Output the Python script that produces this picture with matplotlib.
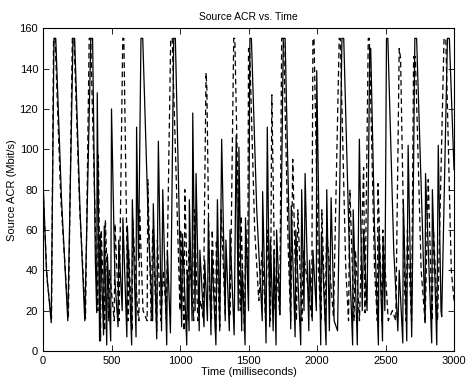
import matplotlib
matplotlib.use('Agg')
import matplotlib.pyplot as plt

# Source 1 (solid) turning points: time (ms), ACR (Mbit/s)
solid_t = [0, 25, 60, 80, 93, 135, 181, 219, 231, 270, 305, 349, 362, 382, 392, 396,
           413, 418, 442, 447, 465, 470, 494, 500, 525, 548, 553, 578, 583, 612, 616,
           647, 652, 679, 683, 697, 715, 728, 770, 800, 805, 830, 842, 865, 874, 903,
           908, 930, 954, 966, 1012, 1018, 1049, 1053, 1066, 1068, 1088, 1093, 1110,
           1117, 1140, 1145, 1175, 1180, 1200, 1207, 1226, 1232, 1262, 1273, 1290,
           1304, 1330, 1335, 1360, 1365, 1395, 1410, 1425, 1430, 1450, 1455, 1475,
           1478, 1500, 1510, 1521, 1560, 1600, 1603, 1628, 1637, 1655, 1660, 1680,
           1685, 1701, 1705, 1730, 1754, 1767, 1800, 1808, 1812, 1840, 1845, 1881,
           1888, 1905, 1913, 1940, 1945, 1965, 1970, 1995, 1998, 2027, 2032, 2066,
           2071, 2090, 2103, 2125, 2150, 2182, 2195, 2240, 2260, 2264, 2294, 2309,
           2330, 2340, 2365, 2385, 2392, 2420, 2448, 2452, 2478, 2482, 2495, 2507,
           2517, 2560, 2590, 2600, 2626, 2630, 2655, 2665, 2691, 2700, 2714, 2727,
           2770, 2789, 2792, 2837, 2842, 2874, 2885, 2905, 2910, 2952, 2966, 3000]
solid_v = [85, 40, 14, 155, 155, 75, 15, 155, 155, 70, 15, 155, 155, 45, 19, 128,
           5, 58, 8, 62, 3, 48, 5, 120, 35, 12, 55, 20, 66, 7, 62,
           3, 75, 7, 111, 45, 155, 155, 60, 15, 73, 6, 104, 10, 80, 3,
           50, 9, 155, 155, 12, 58, 3, 40, 10, 75, 15, 118, 20,
           88, 10, 50, 12, 45, 15, 66, 8, 50, 3, 75, 10,
           105, 15, 55, 10, 60, 8, 107, 20, 101, 10, 40, 3,
           66, 20, 155, 155, 70, 15, 79, 4, 111, 12, 55, 10,
           50, 3, 60, 18, 155, 155, 50, 11, 72, 7, 60, 3,
           80, 20, 88, 10, 45, 15, 50, 20, 139, 3, 59, 3,
           80, 10, 76, 15, 10, 155, 155, 40, 3, 70, 3, 105,
           20, 60, 20, 150, 150, 60, 3, 60, 5, 55, 20, 155,
           155, 50, 10, 40, 4, 75, 5, 102, 7, 60, 155, 155,
           60, 14, 88, 4, 80, 3, 102, 20, 17, 155, 155, 90]

# Source 2 (dashed) turning points
dashed_t = [0, 30, 62, 77, 88, 130, 185, 214, 226, 268, 310, 337, 348, 390, 400,
            404, 420, 425, 450, 455, 480, 485, 520, 525, 555, 582, 590, 620, 625,
            650, 655, 690, 700, 705, 730, 760, 765, 790, 800, 830, 835, 860, 880,
            900, 932, 943, 1000, 1005, 1030, 1035, 1060, 1065, 1100, 1105, 1130,
            1150, 1170, 1190, 1196, 1215, 1230, 1235, 1260, 1265, 1290, 1300, 1330,
            1366, 1392, 1400, 1440, 1445, 1470, 1480, 1495, 1500, 1508, 1545, 1575,
            1600, 1625, 1640, 1660, 1670, 1695, 1705, 1728, 1742, 1756, 1790, 1808,
            1823, 1850, 1860, 1890, 1900, 1961, 1970, 1978, 2010, 2030, 2035, 2060,
            2070, 2120, 2162, 2170, 2210, 2230, 2240, 2270, 2280, 2310, 2340, 2350,
            2374, 2382, 2420, 2440, 2445, 2475, 2480, 2520, 2550, 2575, 2600, 2610,
            2640, 2650, 2660, 2690, 2705, 2718, 2760, 2789, 2812, 2840, 2850, 2880,
            2927, 2940, 2980, 3000]
dashed_v = [80, 35, 16, 155, 155, 75, 16, 155, 155, 70, 16, 155, 155, 40, 20,
            97, 5, 60, 10, 65, 15, 40, 15, 63, 15, 155, 155, 15, 50,
            10, 65, 20, 15, 70, 20, 15, 85, 15, 60, 10, 55, 15, 40,
            16, 155, 155, 20, 60, 10, 80, 15, 50, 15, 70, 15,
            25, 16, 138, 130, 30, 15, 60, 10, 55, 12, 70, 18,
            18, 155, 155, 20, 67, 10, 60, 35, 150, 150, 60, 25,
            50, 15, 60, 15, 127, 20, 40, 18, 155, 155, 50, 15,
            95, 15, 70, 15, 50, 17, 155, 155, 40, 15, 70, 15,
            60, 17, 155, 155, 40, 15, 80, 15, 50, 15, 91, 19,
            155, 155, 40, 15, 83, 15, 60, 15, 20, 15, 150, 145,
            30, 15, 60, 15, 146, 146, 40, 14, 85, 15, 60, 15,
            155, 155, 40, 25]

x_ticks = [0, 500, 1000, 1500, 2000, 2500, 3000]
y_ticks = [0, 20, 40, 60, 80, 100, 120, 140, 160]

plt.rcParams['font.family'] = ['Liberation Sans', 'DejaVu Sans']

fig = plt.figure(figsize=(4.66, 3.86), dpi=100)
ax = fig.add_axes([0.0923, 0.0907, 0.882, 0.836])

ax.plot(solid_t, solid_v, color='black', linewidth=0.9)
ax.plot(dashed_t, dashed_v, color='black', linewidth=0.9, linestyle=(0, (4.5, 2.8)))

ax.set_xlim(0, 3000)
ax.set_ylim(0, 160)
ax.set_xticks(x_ticks)
ax.set_yticks(y_ticks)
ax.tick_params(direction='in', top=True, right=True, length=4, width=0.6, labelsize=8)
for s in ax.spines.values():
    s.set_linewidth(0.8)

ax.set_title('Source ACR vs. Time', fontsize=7.5, pad=6)
ax.set_xlabel('Time (milliseconds)', fontsize=8, labelpad=1)
ax.set_ylabel('Source ACR (Mbit/s)', fontsize=8, labelpad=2)

fig.savefig('out.png', dpi=100)
